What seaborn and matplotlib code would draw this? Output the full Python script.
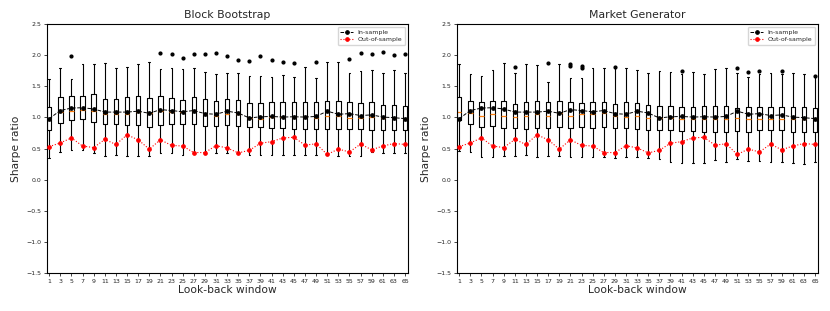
import numpy as np
import matplotlib
matplotlib.use("Agg")
import matplotlib.pyplot as plt
import seaborn as sns

windows = list(range(1, 66, 2))

# lines (same in both panels)
in_sample = [0.98, 1.11, 1.15, 1.155, 1.135, 1.085, 1.085, 1.085, 1.10, 1.065, 1.125, 1.11, 1.09, 1.11, 1.06, 1.05,
             1.10, 1.07, 0.99, 1.01, 1.015, 1.005, 1.01, 1.005, 1.015, 1.10, 1.05, 1.06, 1.03, 1.04, 1.005, 0.995, 0.98]
out_sample = [0.53, 0.59, 0.67, 0.54, 0.515, 0.645, 0.565, 0.72, 0.64, 0.49, 0.64, 0.55, 0.54, 0.435, 0.435, 0.545,
              0.51, 0.43, 0.47, 0.585, 0.61, 0.67, 0.68, 0.555, 0.575, 0.405, 0.49, 0.445, 0.57, 0.48, 0.54, 0.58, 0.565]

# Block Bootstrap boxes
bb_q1 = [0.79, 0.91, 0.96, 0.97, 0.93, 0.89, 0.89, 0.87, 0.88, 0.85, 0.87, 0.89, 0.89, 0.89, 0.86, 0.86, 0.87,
         0.86, 0.84, 0.85, 0.835, 0.825, 0.81, 0.81, 0.81, 0.82, 0.82, 0.81, 0.81, 0.80, 0.80, 0.80, 0.80]
bb_med = [0.98, 1.08, 1.11, 1.12, 1.11, 1.06, 1.05, 1.05, 1.08, 1.065, 1.10, 1.09, 1.08, 1.10, 1.05, 1.03, 1.06,
          1.05, 0.985, 0.98, 1.0, 1.0, 1.0, 1.0, 0.995, 1.015, 1.015, 0.99, 0.995, 1.005, 0.99, 0.99, 0.98]
bb_q3 = [1.16, 1.32, 1.35, 1.34, 1.375, 1.29, 1.29, 1.32, 1.34, 1.31, 1.34, 1.31, 1.28, 1.32, 1.29, 1.26, 1.29,
         1.28, 1.23, 1.23, 1.24, 1.24, 1.24, 1.24, 1.24, 1.26, 1.26, 1.24, 1.23, 1.24, 1.20, 1.20, 1.19]
bb_lo = [0.34, 0.45, 0.48, 0.47, 0.42, 0.385, 0.39, 0.385, 0.375, 0.385, 0.43, 0.43, 0.40, 0.44, 0.41, 0.42, 0.43,
         0.45, 0.395, 0.40, 0.39, 0.39, 0.39, 0.39, 0.40, 0.40, 0.375, 0.385, 0.385, 0.44, 0.43, 0.435, 0.42]
bb_hi = [1.61, 1.79, 1.61, 1.86, 1.86, 1.87, 1.79, 1.815, 1.85, 1.89, 1.77, 1.80, 1.78, 1.80, 1.73, 1.70, 1.72,
         1.71, 1.67, 1.67, 1.65, 1.68, 1.65, 1.815, 1.63, 1.89, 1.89, 1.72, 1.75, 1.76, 1.72, 1.76, 1.72]
bb_out = [[], [], [1.98], [], [], [], [], [], [], [], [2.04], [2.02], [1.96], [2.02], [2.02], [2.03], [1.98],
          [1.92], [1.90], [1.98], [1.92], [1.89], [1.88], [], [1.885], [], [], [1.945], [2.03], [2.02], [2.05],
          [2.01], [2.02]]

# Market Generator boxes
mg_q1 = [0.96, 0.89, 0.84, 0.86, 0.825, 0.825, 0.81, 0.825, 0.825, 0.85, 0.825, 0.85, 0.835, 0.84, 0.825, 0.825,
         0.81, 0.80, 0.80, 0.80, 0.785, 0.78, 0.77, 0.77, 0.77, 0.78, 0.77, 0.80, 0.80, 0.80, 0.77, 0.77, 0.77]
mg_med = [1.09, 1.065, 1.02, 1.05, 1.03, 1.005, 1.02, 1.05, 1.03, 1.07, 1.03, 1.055, 1.05, 1.065, 1.02, 1.01,
          1.02, 0.995, 0.985, 0.995, 0.975, 0.98, 0.98, 0.975, 0.98, 0.985, 0.97, 0.97, 0.97, 0.98, 0.97, 0.97, 0.98]
mg_q3 = [1.33, 1.27, 1.24, 1.26, 1.26, 1.21, 1.24, 1.26, 1.24, 1.26, 1.24, 1.23, 1.24, 1.25, 1.21, 1.25, 1.23,
         1.20, 1.19, 1.19, 1.16, 1.17, 1.18, 1.18, 1.19, 1.155, 1.16, 1.16, 1.16, 1.16, 1.16, 1.16, 1.145]
mg_lo = [0.465, 0.45, 0.37, 0.36, 0.38, 0.38, 0.395, 0.37, 0.38, 0.38, 0.36, 0.36, 0.37, 0.36, 0.34, 0.36, 0.36,
         0.34, 0.325, 0.29, 0.27, 0.27, 0.26, 0.315, 0.29, 0.325, 0.30, 0.30, 0.29, 0.29, 0.27, 0.25, 0.29]
mg_hi = [1.855, 1.69, 1.67, 1.76, 1.88, 1.72, 1.85, 1.84, 1.575, 1.855, 1.63, 1.64, 1.80, 1.80, 1.79, 1.79, 1.76,
         1.72, 1.75, 1.735, 1.70, 1.735, 1.70, 1.77, 1.80, 1.71, 1.645, 1.69, 1.71, 1.69, 1.72, 1.70, 1.655]
mg_out = [[], [], [], [], [], [1.81], [], [], [1.87], [], [1.85, 1.83], [1.82, 1.80], [], [], [1.81], [], [],
          [], [], [], [1.75], [], [], [], [], [1.79], [1.735], [1.745], [], [1.75], [], [], [1.67]]

sns.set_theme(style="ticks")
plt.rcParams['font.family'] = ['DejaVu Sans']
plt.rcParams['axes.edgecolor'] = 'black'
plt.rcParams['axes.linewidth'] = 0.8


def make_stats(q1, med, q3, lo, hi, out):
    stats = []
    for i in range(len(q1)):
        stats.append({'q1': q1[i], 'med': med[i], 'q3': q3[i], 'whislo': lo[i], 'whishi': hi[i],
                      'fliers': np.array(out[i])})
    return stats


def draw_panel(ax, title, stats):
    pos = np.arange(1, len(windows) + 1)
    ax.bxp(stats, positions=pos, widths=0.4, capwidths=0.15, showfliers=True,
           boxprops=dict(color='black', linewidth=0.8),
           whiskerprops=dict(color='black', linewidth=0.8),
           capprops=dict(color='black', linewidth=0.8),
           medianprops=dict(color='#ff7f0e', linewidth=0.9),
           flierprops=dict(marker='o', markersize=2, markerfacecolor='black', markeredgecolor='black'))
    sns.lineplot(x=pos, y=in_sample, ax=ax, color='black', linestyle='--', linewidth=0.7,
                 marker='o', markersize=2.6, markeredgecolor='black', label='In-sample', zorder=4)
    sns.lineplot(x=pos, y=out_sample, ax=ax, color='red', linestyle=':', linewidth=0.8,
                 marker='o', markersize=2.6, markeredgecolor='red', label='Out-of-sample', zorder=4)
    ax.set_xticks(pos)
    ax.set_xticklabels([str(w) for w in windows])
    ax.set_xlim(0.8, 33.27)
    ax.set_ylim(-1.5, 2.5)
    ax.set_yticks(np.arange(-1.5, 2.51, 0.5))
    ax.tick_params(labelsize=4.5, length=2, width=0.6, pad=2)
    ax.set_title(title, fontsize=7.8, pad=4)
    ax.set_xlabel('Look-back window', fontsize=7.7, labelpad=1)
    ax.set_ylabel('Sharpe ratio', fontsize=7.7, labelpad=4)
    ax.legend(loc='upper right', fontsize=4.5, frameon=True, fancybox=True, edgecolor='0.8',
              handlelength=2, borderpad=0.4, labelspacing=0.3)


fig = plt.figure(figsize=(8.3, 3.11), dpi=100)
ax1 = fig.add_axes([0.0566, 0.1222, 0.435, 0.8006])
ax2 = fig.add_axes([0.5506, 0.1222, 0.435, 0.8006])

draw_panel(ax1, 'Block Bootstrap', make_stats(bb_q1, bb_med, bb_q3, bb_lo, bb_hi, bb_out))
draw_panel(ax2, 'Market Generator', make_stats(mg_q1, mg_med, mg_q3, mg_lo, mg_hi, mg_out))

fig.savefig('out.png', dpi=100)
